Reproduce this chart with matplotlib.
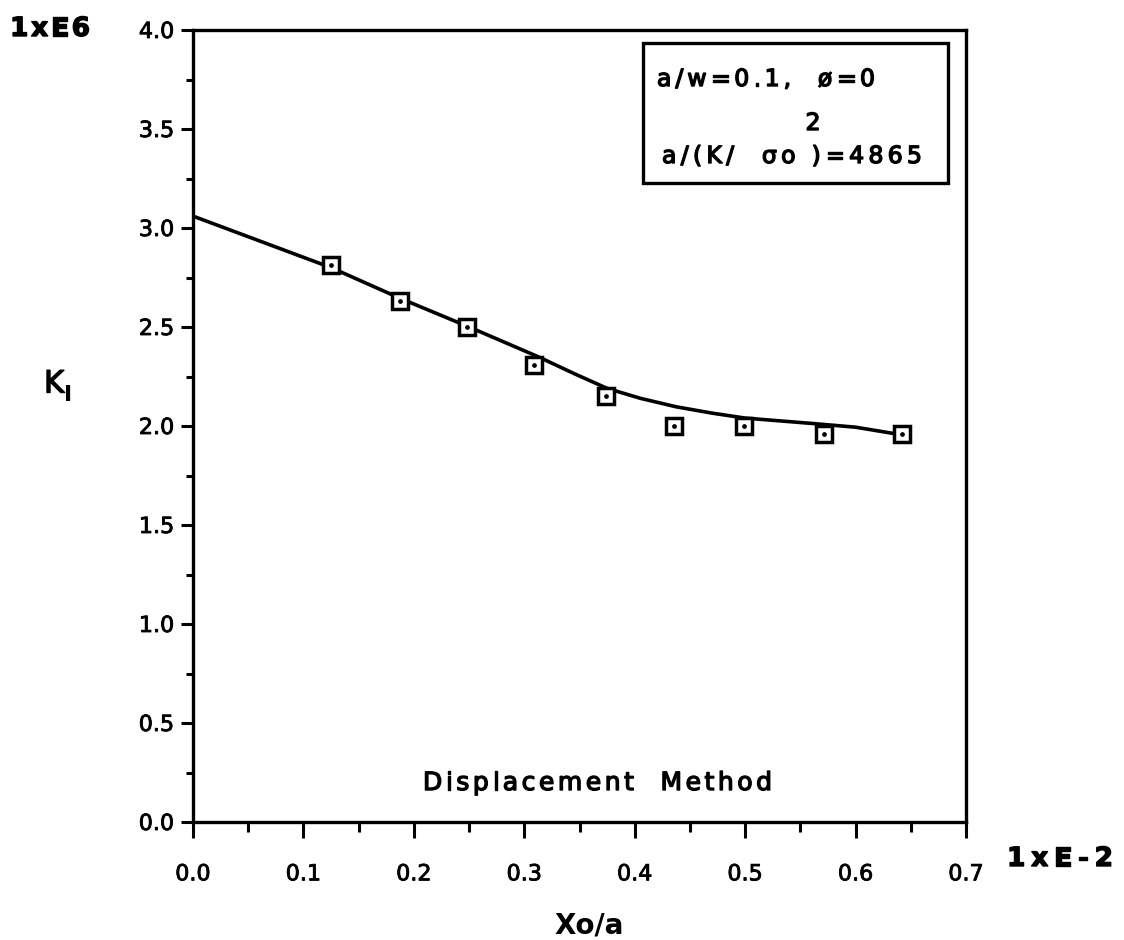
import numpy as np
import matplotlib
matplotlib.use("Agg")
import matplotlib.pyplot as plt
import matplotlib.patheffects as pe
from matplotlib.patches import Rectangle
from matplotlib.font_manager import FontProperties, findfont, get_font

curve_x = [0.0, 0.0625, 0.125, 0.1875, 0.25, 0.3125, 0.345, 0.375, 0.405, 0.4375,
           0.47, 0.5, 0.5625, 0.6, 0.64]
curve_y = [3.06, 2.93, 2.80, 2.645, 2.50, 2.35, 2.265, 2.19, 2.14, 2.097,
           2.065, 2.04, 2.012, 1.994, 1.957]

pts_x = [0.125, 0.187, 0.248, 0.309, 0.374, 0.436, 0.499, 0.571, 0.642]
pts_y = [2.813, 2.631, 2.502, 2.308, 2.153, 2.0, 2.0, 1.958, 1.958]

x_ticks = [0.0, 0.1, 0.2, 0.3, 0.4, 0.5, 0.6, 0.7]
y_ticks = [0.0, 0.5, 1.0, 1.5, 2.0, 2.5, 3.0, 3.5, 4.0]

W, H, DPI = 1124, 940, 100
FONT = "DejaVu Sans"
plt.rcParams['font.family'] = [FONT]
thick = [pe.withStroke(linewidth=1.0, foreground='black')]


def tracked_text(fig, s, left, right, baseline, size, weight='normal'):
    """draw s letter by letter so it spans left..right (image pixels)"""
    fp = FontProperties(family=FONT, size=size, weight=weight)
    font = get_font(findfont(fp))
    font.set_size(size, fig.dpi)
    adv = [font.load_char(ord(c)).linearHoriAdvance / 65536 for c in s]
    track = (right - left - sum(adv)) / max(1, len(s) - 1)
    x = left
    for c, a in zip(s, adv):
        if c != ' ':
            fig.text(x / W, 1 - baseline / H, c, fontproperties=fp,
                     ha='left', va='baseline', path_effects=thick)
        x += a + track


fig = plt.figure(figsize=(W / DPI, H / DPI), dpi=DPI)
ax = fig.add_axes([193 / W, 1 - 822 / H, (966 - 193) / W, (822 - 30) / H])

ax.plot(curve_x, curve_y, color='black', linewidth=2.6, zorder=2)
ax.plot(pts_x, pts_y, linestyle='none', marker='s', markersize=11.5,
        markerfacecolor='white', markeredgecolor='black', markeredgewidth=2.5, zorder=3)
ax.plot(pts_x, pts_y, linestyle='none', marker='o', markersize=2.4,
        color='black', zorder=4)

ax.set_xlim(0, 0.7)
ax.set_ylim(0, 4.0)
ax.set_xticks(x_ticks)
ax.set_xticklabels([f"{v:.1f}" for v in x_ticks])
ax.set_xticks(np.arange(0.05, 0.7, 0.1), minor=True)
ax.set_yticks(y_ticks)
ax.set_yticklabels([f"{v:.1f}" for v in y_ticks])
ax.set_yticks(np.arange(0.25, 4.0, 0.5), minor=True)

for sp in ax.spines.values():
    sp.set_linewidth(2.4)
ax.tick_params(axis='x', which='major', direction='out', length=11.5, width=2.2,
               pad=19, labelsize=16)
ax.tick_params(axis='x', which='minor', direction='out', length=7, width=2.2)
ax.tick_params(axis='y', which='major', direction='out', length=8.5, width=2.2,
               pad=5, labelsize=16)
ax.tick_params(axis='y', which='minor', direction='out', length=5, width=2.2)
for lab in ax.get_xticklabels() + ax.get_yticklabels():
    lab.set_path_effects([pe.withStroke(linewidth=0.6, foreground='black')])

# legend-ish box in the top right
fig.patches.append(Rectangle((643 / W, 1 - 183 / H), (948 - 643) / W, (183 - 43) / H,
                             transform=fig.transFigure, fill=False,
                             edgecolor='black', linewidth=2.4))
tracked_text(fig, "a/w=0.1,  ø=0", 657, 875, 86, 17)
tracked_text(fig, "a/(K/  σo )=4865", 662, 922, 163, 17)
fig.text(813 / W, 1 - 130 / H, "2", fontsize=17, ha='center', va='baseline',
         path_effects=thick)

tracked_text(fig, "Displacement  Method", 423, 772, 790, 18)

# scale factors
tracked_text(fig, "1xE6", 10, 90, 36, 19, weight='bold')
tracked_text(fig, "1xE-2", 1007, 1113, 866, 19, weight='bold')

# axis labels
fig.text(589 / W, 1 - 926 / H, "Xo/a", fontsize=20, fontweight='bold',
         ha='center', va='center')
fig.text(54 / W, 1 - 384 / H, "K", fontsize=22, ha='center', va='center',
         path_effects=thick)
fig.text(68 / W, 1 - 395 / H, "I", fontsize=16, fontweight='bold',
         ha='center', va='center')

fig.savefig("out.png", dpi=DPI)
